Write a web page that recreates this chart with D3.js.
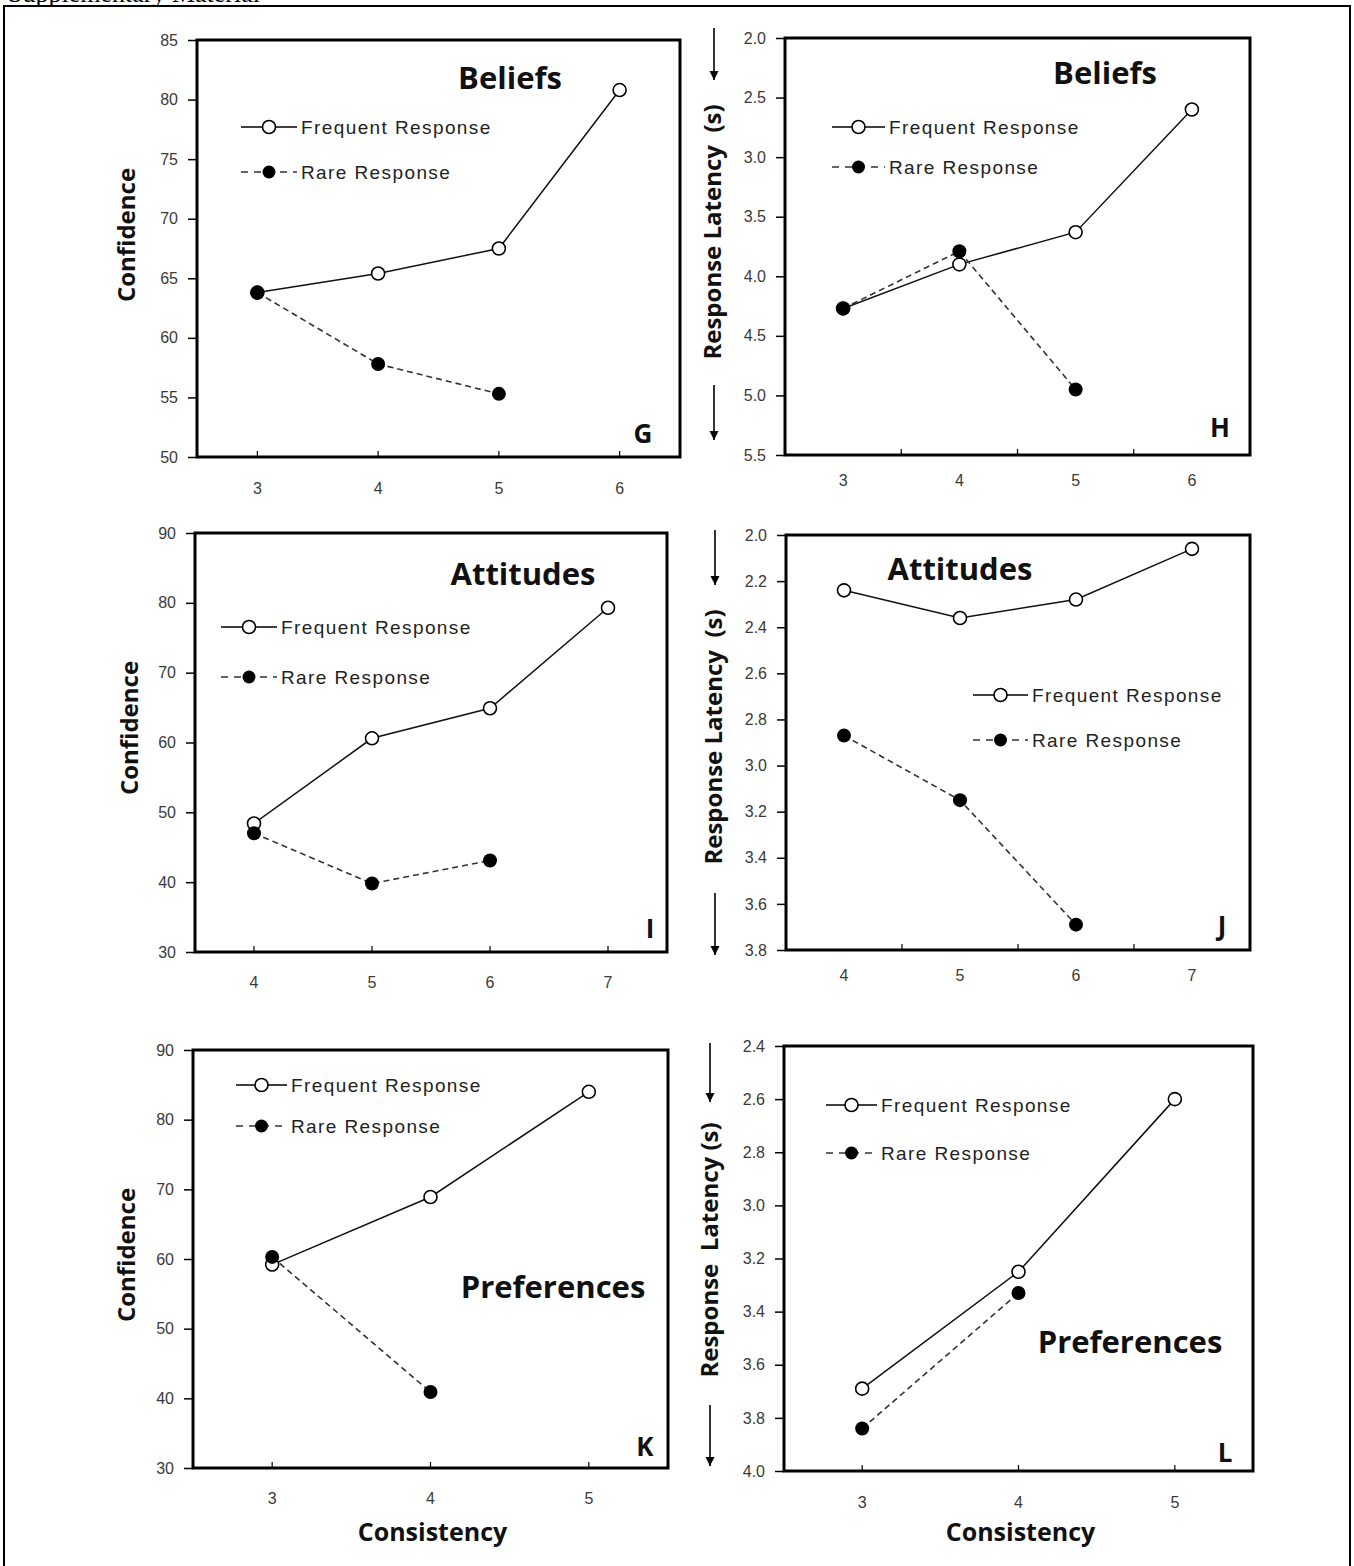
<!DOCTYPE html>
<html>
<head>
<meta charset="utf-8">
<script src="https://cdn.jsdelivr.net/npm/d3@7"></script>
<style>
  html, body { margin: 0; padding: 0; background: #fff; }
  svg { display: block; }
</style>
</head>
<body>
<script>
// ---- Data: consistency levels and mean values per panel ----
// Beliefs
const levelsG = [3, 4, 5, 6];
const confFreqG = [63.8, 65.4, 67.5, 80.8];
const confRareG = [63.8, 57.8, 55.3];
const levelsH = [3, 4, 5, 6];
const latFreqH = [4.27, 3.90, 3.63, 2.60];
const latRareH = [4.27, 3.79, 4.95];
// Attitudes
const levelsI = [4, 5, 6, 7];
const confFreqI = [48.4, 60.6, 64.9, 79.3];
const confRareI = [47.0, 39.8, 43.1];
const levelsJ = [4, 5, 6, 7];
const latFreqJ = [2.24, 2.36, 2.28, 2.06];
const latRareJ = [2.87, 3.15, 3.69];
// Preferences
const levelsK = [3, 4, 5];
const confFreqK = [59.2, 68.9, 84.0];
const confRareK = [60.3, 40.9];
const levelsL = [3, 4, 5];
const latFreqL = [3.69, 3.25, 2.60];
const latRareL = [3.84, 3.33];

// Tick values
const ticksG = [50, 55, 60, 65, 70, 75, 80, 85];
const ticksH = [2.0, 2.5, 3.0, 3.5, 4.0, 4.5, 5.0, 5.5];
const ticksConf = [30, 40, 50, 60, 70, 80, 90];
const ticksJ = [2.0, 2.2, 2.4, 2.6, 2.8, 3.0, 3.2, 3.4, 3.6, 3.8];
const ticksL = [2.4, 2.6, 2.8, 3.0, 3.2, 3.4, 3.6, 3.8, 4.0];

const seriesNames = ["Frequent Response", "Rare Response"];

// ---- Layout of the six panels ----
const panels = [
  { levels: levelsG, freq: confFreqG, rare: confRareG, yTicks: ticksG, yFmt: d3.format("d"),
    box: [197, 680, 40, 457], yDom: [50, 85], invert: false, xTicksBetween: false,
    title: "Beliefs", titlePos: [510, 89], letter: "G", letterPos: [643, 443],
    legend: [241, 297, 127, 172], yLabel: "Confidence", yLabelPos: [125, 235], xLabelY: 494 },
  { levels: levelsH, freq: latFreqH, rare: latRareH, yTicks: ticksH, yFmt: d3.format(".1f"),
    box: [785, 1250, 38, 455], yDom: [2.0, 5.5], invert: true, xTicksBetween: true,
    title: "Beliefs", titlePos: [1105, 84], letter: "H", letterPos: [1220, 437],
    legend: [832, 885, 127, 167], yLabel: "Response Latency  (s)", yLabelPos: [711, 232], xLabelY: 486,
    arrows: [[28, 80], [385, 440]], arrowX: 714 },
  { levels: levelsI, freq: confFreqI, rare: confRareI, yTicks: ticksConf, yFmt: d3.format("d"),
    box: [195, 667, 533, 952], yDom: [30, 90], invert: false, xTicksBetween: false,
    title: "Attitudes", titlePos: [523, 585], letter: "I", letterPos: [650, 938],
    legend: [221, 277, 627, 677], yLabel: "Confidence", yLabelPos: [128, 728], xLabelY: 988 },
  { levels: levelsJ, freq: latFreqJ, rare: latRareJ, yTicks: ticksJ, yFmt: d3.format(".1f"),
    box: [786, 1250, 535, 950], yDom: [2.0, 3.8], invert: true, xTicksBetween: true,
    title: "Attitudes", titlePos: [960, 580], letter: "J", letterPos: [1222, 935],
    legend: [973, 1028, 695, 740], yLabel: "Response Latency  (s)", yLabelPos: [712, 737], xLabelY: 981,
    arrows: [[530, 585], [893, 955]], arrowX: 715 },
  { levels: levelsK, freq: confFreqK, rare: confRareK, yTicks: ticksConf, yFmt: d3.format("d"),
    box: [193, 668, 1050, 1468], yDom: [30, 90], invert: false, xTicksBetween: false,
    title: "Preferences", titlePos: [553, 1298], letter: "K", letterPos: [645, 1456],
    legend: [236, 287, 1085, 1126], yLabel: "Confidence", yLabelPos: [125, 1255], xLabelY: 1504,
    xTitle: "Consistency" },
  { levels: levelsL, freq: latFreqL, rare: latRareL, yTicks: ticksL, yFmt: d3.format(".1f"),
    box: [784, 1253, 1046, 1471], yDom: [2.4, 4.0], invert: true, xTicksBetween: false,
    title: "Preferences", titlePos: [1130, 1353], letter: "L", letterPos: [1225, 1462],
    legend: [826, 877, 1105, 1153], yLabel: "Response  Latency (s)", yLabelPos: [708, 1250], xLabelY: 1508,
    arrows: [[1043, 1102], [1405, 1466]], arrowX: 710, xTitle: "Consistency" }
];

const W = 1354, H = 1566;
const svg = d3.select("body").append("svg")
  .attr("width", W).attr("height", H)
  .attr("viewBox", `0 0 ${W} ${H}`);

// page header and frame
svg.append("text")
  .attr("x", 8).attr("y", 2)
  .attr("font-family", "'Liberation Serif', 'Times New Roman', serif")
  .attr("font-size", 26).attr("fill", "#000")
  .text("Supplementary Material");
svg.append("path")
  .attr("d", `M4,${H} L4,6 L1350,6 L1350,${H}`)
  .attr("fill", "none").attr("stroke", "#000").attr("stroke-width", 2);

const defs = svg.append("defs");
defs.append("marker")
  .attr("id", "arrowhead").attr("viewBox", "0 0 10 10")
  .attr("refX", 10).attr("refY", 5)
  .attr("markerWidth", 9).attr("markerHeight", 10)
  .attr("markerUnits", "userSpaceOnUse")
  .attr("orient", "auto")
  .append("path").attr("d", "M0,0 L10,5 L0,10 Z").attr("fill", "#000");

const tickFont = "'Liberation Sans', Arial, sans-serif";
const boldFont = "'Open Sans', 'Noto Sans', sans-serif";

panels.forEach(p => {
  const [x0, x1, y0, y1] = p.box;
  const lo = d3.min(p.levels) - 0.5, hi = d3.max(p.levels) + 0.5;
  const x = d3.scaleLinear().domain([lo, hi]).range([x0, x1]);
  const y = d3.scaleLinear().domain(p.yDom).range(p.invert ? [y0, y1] : [y1, y0]);
  const g = svg.append("g");

  // y axis: outward ticks with labels
  const yAxis = d3.axisLeft(y).tickValues(p.yTicks).tickFormat(p.yFmt)
    .tickSize(9).tickSizeOuter(0).tickPadding(10);
  const ya = g.append("g").attr("transform", `translate(${x0},0)`).call(yAxis);
  ya.select(".domain").remove();
  ya.selectAll(".tick line").attr("stroke", "#000").attr("stroke-width", 1.5);
  ya.selectAll(".tick text").attr("font-family", tickFont).attr("font-size", 16)
    .attr("fill", "#3a3a3a");

  // x axis: inward ticks, labels below
  const xTickVals = p.xTicksBetween
    ? d3.range(lo + 1, hi - 0.5, 1)
    : p.levels;
  g.append("g").selectAll("line").data(xTickVals).join("line")
    .attr("x1", d => x(d)).attr("x2", d => x(d))
    .attr("y1", y1).attr("y2", y1 - 6)
    .attr("stroke", "#000").attr("stroke-width", 1.2);
  g.append("g").selectAll("text").data(p.levels).join("text")
    .attr("x", d => x(d)).attr("y", p.xLabelY)
    .attr("text-anchor", "middle")
    .attr("font-family", tickFont).attr("font-size", 16).attr("fill", "#3a3a3a")
    .text(d => d);

  // plot frame
  g.append("rect")
    .attr("x", x0).attr("y", y0).attr("width", x1 - x0).attr("height", y1 - y0)
    .attr("fill", "none").attr("stroke", "#000").attr("stroke-width", 3);

  // frequent response: solid line, open circles; rare response: dashed line, filled dots
  const line = d3.line().x((d, i) => x(p.levels[i])).y(d => y(d));
  g.append("path").datum(p.freq).attr("d", line)
    .attr("fill", "none").attr("stroke", "#111").attr("stroke-width", 1.5);
  g.append("path").datum(p.rare).attr("d", line)
    .attr("fill", "none").attr("stroke", "#333").attr("stroke-width", 1.6)
    .attr("stroke-dasharray", "6,4");
  g.selectAll(".freqPt").data(p.freq).join("circle")
    .attr("cx", (d, i) => x(p.levels[i])).attr("cy", d => y(d)).attr("r", 6.5)
    .attr("fill", "#fff").attr("stroke", "#000").attr("stroke-width", 1.6);
  g.selectAll(".rarePt").data(p.rare).join("circle")
    .attr("cx", (d, i) => x(p.levels[i])).attr("cy", d => y(d)).attr("r", 7)
    .attr("fill", "#000");

  // legend
  const [lx0, lx1, ly1, ly2] = p.legend;
  const lcx = (lx0 + lx1) / 2;
  g.append("line").attr("x1", lx0).attr("x2", lx1).attr("y1", ly1).attr("y2", ly1)
    .attr("stroke", "#000").attr("stroke-width", 1.5);
  g.append("circle").attr("cx", lcx).attr("cy", ly1).attr("r", 6.5)
    .attr("fill", "#fff").attr("stroke", "#000").attr("stroke-width", 1.6);
  g.append("line").attr("x1", lx0).attr("x2", lx1).attr("y1", ly2).attr("y2", ly2)
    .attr("stroke", "#333").attr("stroke-width", 1.6).attr("stroke-dasharray", "7,6");
  g.append("circle").attr("cx", lcx).attr("cy", ly2).attr("r", 6.5).attr("fill", "#000");
  [ly1, ly2].forEach((ly, i) => {
    g.append("text").attr("x", lx1 + 4).attr("y", ly)
      .attr("dominant-baseline", "central")
      .attr("font-family", tickFont).attr("font-size", 19).attr("letter-spacing", 1.4)
      .attr("fill", "#222").text(seriesNames[i]);
  });

  // panel title and letter
  g.append("text").attr("x", p.titlePos[0]).attr("y", p.titlePos[1])
    .attr("text-anchor", "middle").attr("font-family", boldFont).attr("font-weight", 700)
    .attr("font-size", 31).attr("fill", "#111").text(p.title);
  g.append("text").attr("x", p.letterPos[0]).attr("y", p.letterPos[1])
    .attr("text-anchor", "middle").attr("font-family", boldFont).attr("font-weight", 700)
    .attr("font-size", 26).attr("fill", "#111").text(p.letter);

  // y axis title
  g.append("text")
    .attr("transform", `translate(${p.yLabelPos[0]},${p.yLabelPos[1]}) rotate(-90)`)
    .attr("text-anchor", "middle").attr("dominant-baseline", "central")
    .attr("font-family", boldFont).attr("font-weight", 700).attr("font-size", 24)
    .attr("fill", "#111").attr("xml:space", "preserve").style("white-space", "pre")
    .text(p.yLabel);

  // direction arrows beside latency axis titles
  if (p.arrows) {
    p.arrows.forEach(([a, b]) => {
      g.append("line").attr("x1", p.arrowX).attr("x2", p.arrowX)
        .attr("y1", a).attr("y2", b)
        .attr("stroke", "#000").attr("stroke-width", 1.6)
        .attr("marker-end", "url(#arrowhead)");
    });
  }

  // x axis title
  if (p.xTitle) {
    g.append("text").attr("x", (x0 + x1) / 2 + 2).attr("y", 1541)
      .attr("text-anchor", "middle").attr("font-family", boldFont).attr("font-weight", 700)
      .attr("font-size", 25).attr("fill", "#111").text(p.xTitle);
  }
});
</script>
</body>
</html>
